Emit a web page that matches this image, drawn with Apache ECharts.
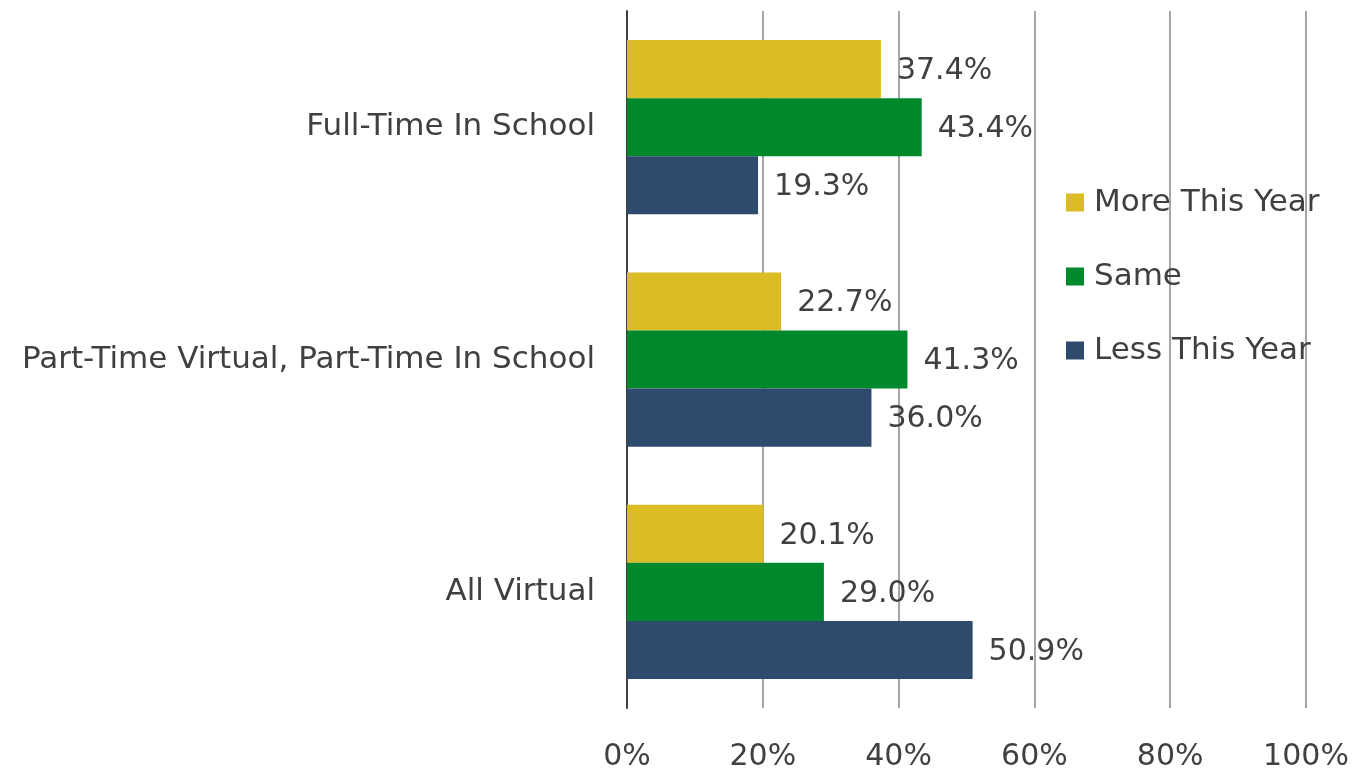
<!DOCTYPE html>
<html>
<head>
<meta charset="utf-8">
<script src="https://cdn.jsdelivr.net/npm/echarts@6/dist/echarts.min.js"></script>
<style>
  html, body { margin: 0; padding: 0; background: #fff; }
  #main { width: 1356px; height: 772px; }
</style>
</head>
<body>
<div id="main"></div>
<script>
var categories = ['Full-Time In School', 'Part-Time Virtual, Part-Time In School', 'All Virtual'];
var moreThisYear = [37.4, 22.7, 20.1];
var same = [43.4, 41.3, 29.0];
var lessThisYear = [19.3, 36.0, 50.9];
var seriesNames = ['More This Year', 'Same', 'Less This Year'];
var colors = ['#DBBC25', '#00882D', '#2E4A6C'];

var font = '"DejaVu Sans", sans-serif';
var textColor = '#404040';

var chart = echarts.init(document.getElementById('main'));

function makeSeries(name, data, color) {
    return {
        name: name,
        type: 'bar',
        data: data,
        barGap: '0%',
        barCategoryGap: '25%',
        itemStyle: { color: color },
        label: {
            show: true,
            position: 'right',
            distance: 16,
            formatter: function (p) { return p.value.toFixed(1) + '%'; },
            fontFamily: font,
            fontSize: 30,
            color: textColor,
            offset: [0, 2]
        }
    };
}

chart.setOption({
    animation: false,
    textStyle: { fontFamily: font },
    grid: { left: 627, right: 50, top: 11, bottom: 62, containLabel: false },
    legend: {
        orient: 'vertical',
        left: 1066,
        top: 187,
        padding: 0,
        itemWidth: 18,
        itemHeight: 18,
        itemGap: 43,
        icon: 'rect',
        data: seriesNames,
        textStyle: { fontFamily: font, fontSize: 31, color: textColor, lineHeight: 30, padding: [0, 0, 0, 5] }
    },
    xAxis: {
        type: 'value',
        min: 0,
        max: 100,
        interval: 20,
        axisLine: { show: false },
        axisTick: { show: false },
        splitLine: { lineStyle: { color: '#A6A6A6', width: 2 } },
        axisLabel: {
            formatter: '{value}%',
            fontFamily: font,
            fontSize: 30,
            color: textColor,
            margin: 34
        }
    },
    yAxis: {
        type: 'category',
        inverse: true,
        data: categories,
        axisLine: { lineStyle: { color: '#404040', width: 2 } },
        axisTick: { show: false },
        axisLabel: {
            fontFamily: font,
            fontSize: 31,
            color: textColor,
            margin: 32
        }
    },
    series: [
        makeSeries(seriesNames[0], moreThisYear, colors[0]),
        makeSeries(seriesNames[1], same, colors[1]),
        makeSeries(seriesNames[2], lessThisYear, colors[2])
    ]
});
</script>
</body>
</html>
